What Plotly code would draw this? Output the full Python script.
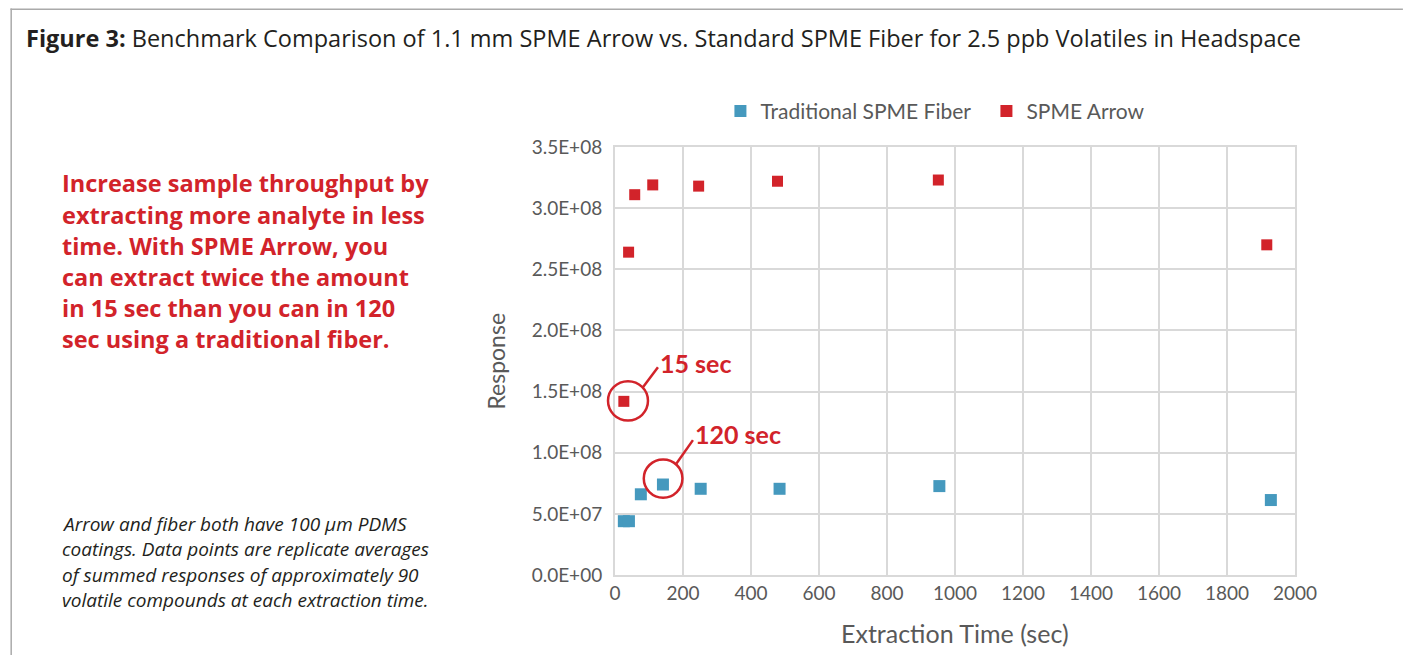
import plotly.graph_objects as go

# ---------------- data ----------------
fiber_time = [26, 41, 76, 141, 252, 484, 954, 1929]
fiber_response = [0.44e8, 0.44e8, 0.66e8, 0.74e8, 0.705e8, 0.705e8, 0.727e8, 0.613e8]

arrow_time = [26, 40, 58, 111, 246, 478, 951, 1917]
arrow_response = [1.42e8, 2.64e8, 3.11e8, 3.19e8, 3.18e8, 3.22e8, 3.23e8, 2.70e8]

y_tick_vals = [0, 0.5e8, 1.0e8, 1.5e8, 2.0e8, 2.5e8, 3.0e8, 3.5e8]
y_tick_text = ["0.0E+00", "5.0E+07", "1.0E+08", "1.5E+08", "2.0E+08", "2.5E+08", "3.0E+08", "3.5E+08"]
x_tick_vals = [0, 200, 400, 600, 800, 1000, 1200, 1400, 1600, 1800, 2000]

title_bold = "Figure 3:"
title_rest = " Benchmark Comparison of 1.1 mm SPME Arrow vs. Standard SPME Fiber for 2.5 ppb Volatiles in Headspace"
red_lines = [
    "Increase sample throughput by",
    "extracting more analyte in less",
    "time. With SPME Arrow, you",
    "can extract twice the amount",
    "in 15 sec than you can in 120",
    "sec using a traditional fiber.",
]
note_lines = [
    "Arrow and fiber both have 100 μm PDMS",
    "coatings. Data points are replicate averages",
    "of summed responses of approximately 90",
    "volatile compounds at each extraction time.",
]

# ---------------- style ----------------
OFF = 8  # default page margin of the html body
W, H = 1411 - 2 * OFF, 667 - 2 * OFF - 4
L, T = 614.5 - OFF, 146.7 - OFF
R = W - (1295 - OFF)
B = H - (575 - OFF)
PW = W - L - R
PH = H - T - B
RED = "#D2232A"
BLUE = "#4599BE"
GRID = "#D9D9D9"
TICK = "#595959"
FONT = "Lato"
FONT2 = "Open Sans"


def px(x):
    return (x - OFF - L) / PW


def py(y):
    return (H - B - (y - OFF)) / PH


fig = go.Figure()
fig.add_trace(go.Scatter(
    x=fiber_time, y=fiber_response, mode="markers", name="Traditional SPME Fiber",
    marker=dict(symbol="square", size=12, color=BLUE, line=dict(width=0)),
))
fig.add_trace(go.Scatter(
    x=arrow_time, y=arrow_response, mode="markers", name="SPME Arrow",
    marker=dict(symbol="square", size=11, color=RED, line=dict(width=0)),
))

ann = []
# title
ann.append(dict(text=f"<b>{title_bold}</b>{title_rest}", xref="paper", yref="paper",
                x=px(23), y=py(38), xanchor="left", yanchor="middle", showarrow=False,
                font=dict(family=FONT2, size=23.5, color="#231F20")))
# red text
for i, line in enumerate(red_lines):
    ann.append(dict(text=f"<b>{line}</b>", xref="paper", yref="paper",
                    x=px(59), y=py(183 + 31.26 * i), xanchor="left", yanchor="middle",
                    showarrow=False, font=dict(family=FONT2, size=23.5, color=RED)))
# note text
for i, line in enumerate(note_lines):
    ann.append(dict(text=f"<i>{line}</i>", xref="paper", yref="paper",
                    x=px(59.5), y=py(524 + 25.3 * i), xanchor="left", yanchor="middle",
                    showarrow=False, font=dict(family=FONT2, size=19, color="#231F20")))
# callouts
ann.append(dict(text="<b>15 sec</b>", xref="paper", yref="paper", x=px(658), y=py(363),
                xanchor="left", yanchor="middle", showarrow=False,
                font=dict(family=FONT, size=25, color=RED)))
ann.append(dict(text="<b>120 sec</b>", xref="paper", yref="paper", x=px(693), y=py(434),
                xanchor="left", yanchor="middle", showarrow=False,
                font=dict(family=FONT, size=25, color=RED)))
# axis titles
ann.append(dict(text="Response", xref="paper", yref="paper", x=px(495), y=0.5,
                xanchor="center", yanchor="middle", textangle=-90, showarrow=False,
                font=dict(family=FONT, size=23, color=TICK)))
ann.append(dict(text="Extraction Time (sec)", xref="paper", yref="paper", x=0.5, y=py(633),
                xanchor="center", yanchor="middle", showarrow=False,
                font=dict(family=FONT, size=25, color=TICK)))

shapes = [
    # page border (top & left), drawn as thin filled strips
    dict(type="rect", xref="paper", yref="paper", x0=px(9.5), x1=px(1403), y0=py(9.5), y1=py(8),
         fillcolor="#AAAAAA", line=dict(width=0)),
    dict(type="rect", xref="paper", yref="paper", x0=px(9.5), x1=px(11), y0=py(659), y1=py(8),
         fillcolor="#AAAAAA", line=dict(width=0)),
    # 15 sec callout
    dict(type="circle", xref="paper", yref="paper", x0=px(607.5), x1=px(647.5), y0=py(420.5), y1=py(381),
         line=dict(color=RED, width=2.5)),
    dict(type="line", xref="paper", yref="paper", x0=px(642.5), x1=px(657.5), y0=py(387), y1=py(367),
         line=dict(color=RED, width=2.5)),
    # 120 sec callout
    dict(type="circle", xref="paper", yref="paper", x0=px(643.3), x1=px(682), y0=py(497.7), y1=py(459.3),
         line=dict(color=RED, width=2.5)),
    dict(type="line", xref="paper", yref="paper", x0=px(676), x1=px(692.5), y0=py(463.5), y1=py(440),
         line=dict(color=RED, width=2.5)),
]

fig.update_layout(
    width=W, height=H,
    margin=dict(l=L, r=R, t=T, b=B, autoexpand=False),
    paper_bgcolor="white", plot_bgcolor="white",
    font=dict(family=FONT, color=TICK),
    showlegend=True,
    legend=dict(orientation="h", x=px(720), y=py(111), xanchor="left", yanchor="middle",
                font=dict(family=FONT, size=21, color=TICK), bgcolor="rgba(0,0,0,0)",
                itemsizing="constant", entrywidth=221, entrywidthmode="pixels"),
    annotations=ann, shapes=shapes,
    xaxis=dict(range=[0, 2000], tickvals=x_tick_vals, showgrid=True, gridcolor=GRID, gridwidth=2,
               zeroline=False, showline=True, mirror=True, linecolor=GRID, linewidth=2,
               ticks="", tickfont=dict(family=FONT, size=19, color=TICK), fixedrange=True),
    yaxis=dict(range=[0, 3.5e8], tickvals=y_tick_vals, ticktext=y_tick_text, showgrid=True,
               gridcolor=GRID, gridwidth=2, zeroline=False, showline=True, mirror=True,
               linecolor=GRID, linewidth=2, ticks="outside", ticklen=7,
               tickcolor="rgba(0,0,0,0)", tickfont=dict(family=FONT, size=19, color=TICK),
               fixedrange=True),
)

fig.write_html("out.html")
